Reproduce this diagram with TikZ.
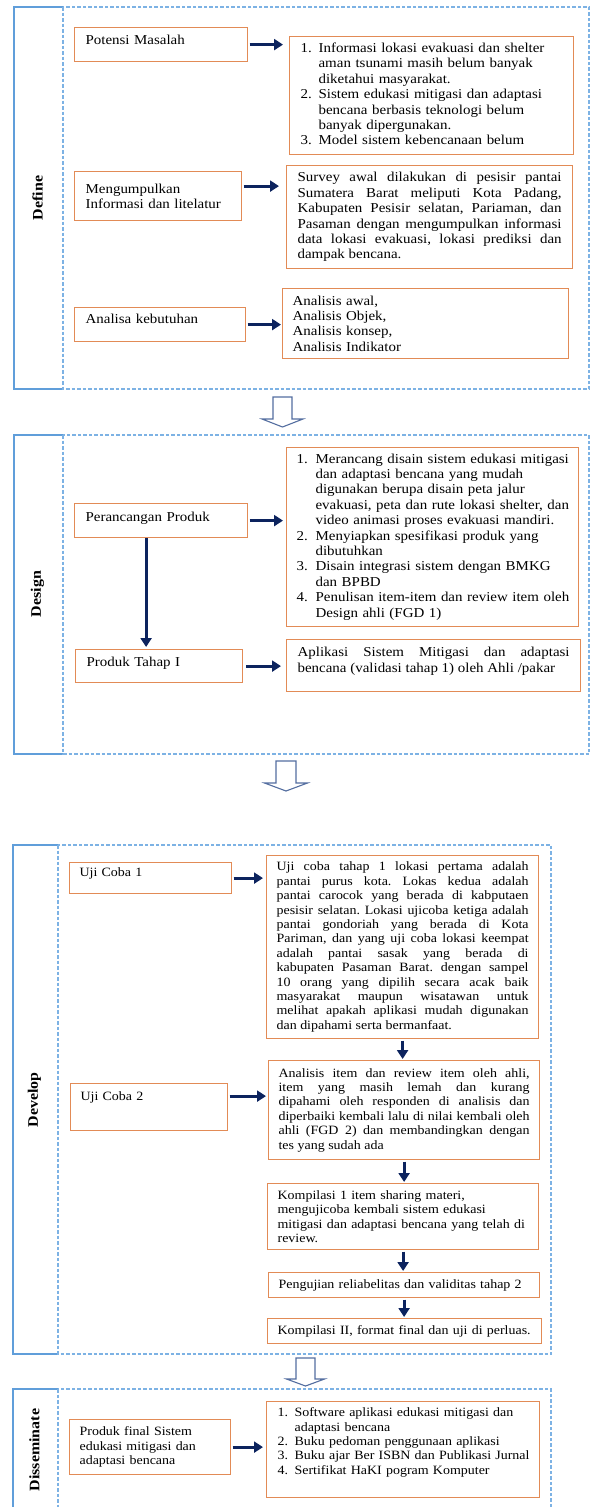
\documentclass[tikz,border=0pt]{standalone}
\usepackage{fontspec}
\setmainfont[FakeStretch=1.1]{Liberation Serif}
\usetikzlibrary{arrows.meta}
\definecolor{boxorange}{RGB}{226,139,86}
\definecolor{framblue}{RGB}{96,158,218}
\definecolor{dashblue}{RGB}{125,178,228}
\definecolor{arrownavy}{RGB}{12,35,94}
\definecolor{hollowblue}{RGB}{84,110,160}
\newcommand{\topsize}{\fontsize{13.6}{15.4}\selectfont}
\newcommand{\botsize}{\fontsize{12.7}{14.4}\selectfont}
\frenchspacing
\tikzset{>/.tip={Triangle[length=9pt,width=11pt]},
  topbox/.style={draw=boxorange, line width=1.2pt, anchor=north west, inner xsep=11pt, inner ysep=2pt, font=\topsize, align=left},
  botbox/.style={draw=boxorange, line width=1.2pt, anchor=north west, inner xsep=10pt, inner ysep=2pt, font=\botsize, align=left},
  phase/.style={rotate=90, font=\bfseries\fontsize{14.5}{16}\selectfont},
  flow/.style={->, draw=arrownavy, line width=3pt, shorten <=1.5pt, shorten >=3pt},
  phaseframe/.style={draw=framblue, line width=1.4pt},
  dashframe/.style={draw=dashblue, line width=1.2pt, dash pattern=on 3.5pt off 2pt},
  hollow/.style={draw=hollowblue, line width=1.1pt, fill=white, line join=miter}}

\begin{document}
\begin{tikzpicture}[x=1pt, y=-1pt]
\useasboundingbox[fill=white] (0,0) rectangle (590,1507);

% phase frames
\draw[phaseframe] (63,7) -- (14,7) -- (14,389) -- (63,389);
\draw[dashframe] (63,7) rectangle (589,389);
\draw[phaseframe] (63,435) -- (14,435) -- (14,754) -- (63,754);
\draw[dashframe] (63,435) rectangle (589,754);
\draw[phaseframe] (58,845) -- (13,845) -- (13,1354) -- (58,1354);
\draw[dashframe] (58,845) rectangle (551,1354);
\draw[phaseframe] (58,1389) -- (13,1389) -- (13,1515) -- (58,1515);
\draw[dashframe] (58,1389) rectangle (551,1515);

\node[phase] (define) at (37.5,198) {Define};
\node[phase] (design) at (37.5,594) {Design};
\node[phase] (develop) at (34.5,1100) {Develop};
\node[phase] (dissem) at (34.5,1450) {Disseminate};

% hollow arrows between phases
\draw[hollow] (273,397) -- ++(19,0) -- ++(0,22) -- ++(11,0) -- ++(-20.5,8) -- ++(-20.5,-8) -- ++(11,0) -- cycle;
\draw[hollow] (276,761) -- ++(20,0) -- ++(0,22) -- ++(11.5,0) -- ++(-21.5,8) -- ++(-21.5,-8) -- ++(11.5,0) -- cycle;
\draw[hollow] (296,1358) -- ++(19,0) -- ++(0,21) -- ++(9.5,0) -- ++(-19,7) -- ++(-19,-7) -- ++(9.5,0) -- cycle;

% Define
\node[topbox, text width=151pt, minimum height=34pt, text depth=10pt] (pm) at (74,27) {Potensi Masalah};
\node[topbox, text width=262pt, minimum height=118pt] (lst) at (289,36) {%
\begin{tabular}{@{}p{18pt}@{}l@{}}
1. & Informasi lokasi evakuasi dan shelter\\
   & aman tsunami masih belum banyak\\
   & diketahui masyarakat.\\
2. & Sistem edukasi mitigasi dan adaptasi\\
   & bencana berbasis teknologi belum\\
   & banyak dipergunakan.\\
3. & Model sistem kebencanaan belum
\end{tabular}};
\node[topbox, text width=145pt, minimum height=49pt] (mi) at (74,171) {Mengumpulkan\\Informasi dan litelatur};
\node[topbox, text width=264pt, minimum height=103pt, align=justify] (srv) at (286,165) {Survey awal dilakukan di pesisir pantai\linebreak
Sumatera Barat meliputi Kota Padang,\linebreak
Kabupaten Pesisir selatan, Pariaman, dan\linebreak
Pasaman dengan mengumpulkan informasi\linebreak
data lokasi evakuasi, lokasi prediksi dan\linebreak
dampak bencana.};
\node[topbox, text width=149pt, minimum height=34pt, text depth=12pt] (ak) at (74,307) {Analisa kebutuhan};
\node[topbox, inner xsep=10pt, text width=266pt, minimum height=70pt] (ana) at (282,288) {Analisis awal,\\Analisis Objek,\\Analisis konsep,\\Analisis Indikator};

\draw[flow, shorten >=6pt] (pm.east) -- (pm.east -| lst.west);
\draw[flow, shorten >=7pt] ([yshift=10pt]mi.east) -- ([yshift=10pt]mi.east -| srv.west);
\draw[flow, shorten >=1pt] (ak.east) -- (ak.east -| ana.west);

% Design
\node[topbox, text width=151pt, minimum height=34pt, text depth=8pt] (pp) at (74,503) {Perancangan Produk};
\node[topbox, inner xsep=10pt, text width=272pt, minimum height=179pt] (dlst) at (286,447) {%
\begin{tabular}{@{}p{19pt}@{}l@{}}
1. & Merancang disain sistem edukasi mitigasi\\
   & dan adaptasi bencana yang mudah\\
   & digunakan berupa disain peta jalur\\
   & evakuasi, peta dan rute lokasi shelter, dan\\
   & video animasi proses evakuasi mandiri.\\
2. & Menyiapkan spesifikasi produk yang\\
   & dibutuhkan\\
3. & Disain integrasi sistem dengan BMKG\\
   & dan BPBD\\
4. & Penulisan item-item dan review item oleh\\
   & Design ahli (FGD 1)
\end{tabular}};
\node[topbox, text width=145pt, minimum height=33pt, text depth=8pt] (pt) at (75,649) {Produk Tahap I};
\node[topbox, text width=272pt, minimum height=52pt, align=justify, text depth=27pt] (apl) at (286,639) {Aplikasi Sistem Mitigasi dan adaptasi\linebreak
bencana (validasi tahap 1) oleh Ahli /pakar};

\draw[flow, shorten >=3pt] (pp.east) -- (pp.east -| dlst.west);
\draw[flow, shorten <=0pt, shorten >=2pt] ([xshift=-15pt]pp.south) -- ([xshift=-15pt]pp.south |- pt.north);
\draw[flow, shorten <=3pt, shorten >=5pt] (pt.east) -- (pt.east -| apl.west);

% Develop
\node[botbox, text width=142pt, minimum height=31pt, text depth=12pt] (uc1) at (69,862) {Uji Coba 1};
\node[botbox, text width=252pt, minimum height=183pt, align=justify] (big) at (266,855) {Uji coba tahap 1 lokasi pertama adalah\linebreak
pantai purus kota. Lokas kedua adalah\linebreak
pantai carocok yang berada di kabputaen\linebreak
pesisir selatan. Lokasi ujicoba ketiga adalah\linebreak
pantai gondoriah yang berada di Kota\linebreak
Pariman, dan yang uji coba lokasi keempat\linebreak
adalah pantai sasak yang berada di\linebreak
kabupaten Pasaman Barat. dengan sampel\linebreak
10 orang yang dipilih secara acak baik\linebreak
masyarakat maupun wisatawan untuk\linebreak
melihat apakah aplikasi mudah digunakan\linebreak
dan dipahami serta bermanfaat.};
\node[botbox, text width=137pt, minimum height=47pt, text depth=23pt] (uc2) at (70,1083) {Uji Coba 2};
\node[botbox, text width=251pt, minimum height=99pt, align=justify] (ait) at (268,1060) {Analisis item dan review item oleh ahli,\linebreak
item yang masih lemah dan kurang\linebreak
dipahami oleh responden di analisis dan\linebreak
diperbaiki kembali lalu di nilai kembali oleh\linebreak
ahli (FGD 2) dan membandingkan dengan\linebreak
tes yang sudah ada};
\node[botbox, text width=251pt, minimum height=66pt] (k1) at (267,1183) {Kompilasi 1 item sharing materi,\\mengujicoba kembali sistem edukasi\\mitigasi dan adaptasi bencana yang telah di\\review.};
\node[botbox, text width=251pt, minimum height=25pt] (pr) at (268,1272) {Pengujian reliabelitas dan validitas tahap 2};
\node[botbox, text width=254pt, minimum height=25pt] (k2) at (267,1318) {Kompilasi II, format final dan uji di perluas.};

\draw[flow] (uc1.east) -- (uc1.east -| big.west);
\draw[flow, shorten >=2pt] ([yshift=11pt]uc2.east) -- ([yshift=11pt]uc2.east -| ait.west);
\draw[flow, shorten >=1pt] (big.south) -- (big.south |- ait.north);
\draw[flow, shorten >=1pt] (ait.south) -- (ait.south |- k1.north);
\draw[flow, shorten >=1pt] (k1.south) -- (k1.south |- pr.north);
\draw[flow, shorten >=1pt] (pr.south) -- (pr.south |- k2.north);

% Disseminate
\node[botbox, text width=141pt, minimum height=55pt] (pf) at (69,1419) {Produk final Sistem\\edukasi mitigasi dan\\adaptasi bencana};
\node[botbox, inner xsep=11pt, text width=251pt, minimum height=96pt] (slst) at (266,1401) {%
\begin{tabular}{@{}p{17pt}@{}l@{}}
1. & Software aplikasi edukasi mitigasi dan\\
   & adaptasi bencana\\
2. & Buku pedoman penggunaan aplikasi\\
3. & Buku ajar Ber ISBN dan Publikasi Jurnal\\
4. & Sertifikat HaKI pogram Komputer\\[14pt]
\end{tabular}};

\draw[flow] (pf.east) -- (pf.east -| slst.west);
\end{tikzpicture}
\end{document}
